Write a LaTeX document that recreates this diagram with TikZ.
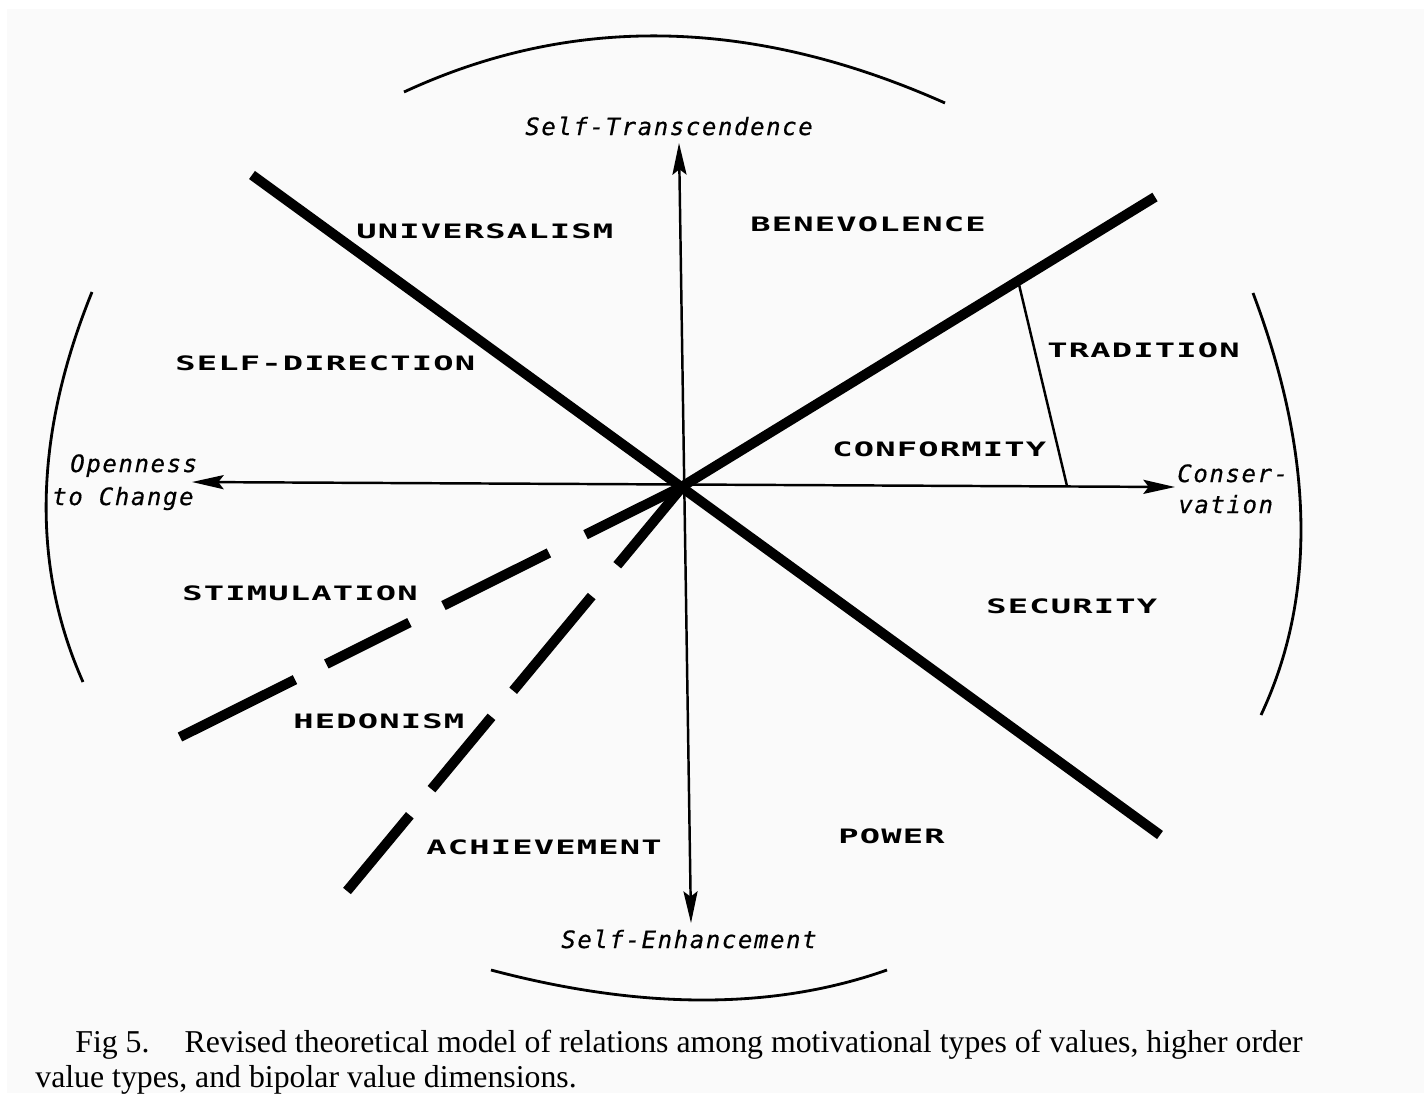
\documentclass[tikz,border=0pt]{standalone}
\usepackage{fontspec}
\setmainfont{Liberation Serif}
\newfontfamily\typefont[FakeStretch=1.7,LetterSpace=6,UprightFont=*-Bold]{DejaVu Sans Mono}
\newfontfamily\dimfont[LetterSpace=7,FakeBold=0.6]{DejaVu Sans Mono}
\usetikzlibrary{arrows.meta,calc}
\definecolor{paper}{RGB}{250,250,250}
\begin{document}
\begin{tikzpicture}[x=0.02cm,y=-0.02cm,
  axis/.style={line width=1.4pt,{Stealth[length=18pt,width=8pt,inset=3pt]}-{Stealth[length=18pt,width=8pt,inset=3pt]}},
  rim/.style={line width=1.6pt},
  bar/.style={line width=5.7pt},
  typelbl/.style={anchor=base west,inner sep=0pt,font=\typefont\fontsize{11.3}{13}\selectfont},
  dimlbl/.style={anchor=base west,inner sep=0pt,font=\dimfont\itshape\fontsize{13.6}{16}\selectfont}]
\useasboundingbox (0,0) rectangle (1424,1093);
\fill[white] (0,0) rectangle (1424,1093);
\fill[paper] (7,9) rectangle (1424,1093);
% axes
\coordinate (O) at (683,486);
\coordinate (N) at (679,143);
\coordinate (S) at (691,923);
\coordinate (W) at (192,482);
\coordinate (E) at (1175,487);
\draw[axis] (W) -- (E);
\draw[axis] (N) -- (S);
% dividing lines
\coordinate (NW) at (252,175);
\coordinate (SE) at (1160,835);
\coordinate (NE) at (1155,197);
\coordinate (SWa) at (180,737);
\coordinate (SWb) at (347,891);
\draw[bar] (NW) -- (SE);
\draw[bar] (O) -- (NE);
\draw[bar,dash pattern=on 62pt off 23.3pt on 67.1pt off 21.6pt on 52.9pt off 19.9pt on 80pt] (O) -- (SWa);
\draw[bar,dash pattern=on 58.6pt off 22.8pt on 70pt off 19.3pt on 53.5pt off 19.3pt on 65pt] (O) -- (SWb);
\coordinate (trd) at ($(O)!0.71!(NE)$);
\coordinate (cnf) at (1067,486);
\draw[line width=1.4pt] (trd) -- (cnf);
% outer arcs
\draw[rim] (404,92) .. controls (572,14) and (752,17) .. (945,103);
\draw[rim] (92,292) .. controls (34,435) and (31,565) .. (83,682);
\draw[rim] (1253,293) .. controls (1314,455) and (1317,596) .. (1261,715);
\draw[rim] (491,970) .. controls (642,1010) and (774,1010) .. (887,970);
% value types
\node[typelbl] (univ) at (356,238) {UNIVERSALISM};
\node[typelbl] (bene) at (750,231) {BENEVOLENCE};
\node[typelbl] (sdir) at (175,370) {SELF-DIRECTION};
\node[typelbl] (trad) at (1047,357) {TRADITION};
\node[typelbl] (conf) at (832,456) {CONFORMITY};
\node[typelbl] (stim) at (182,600) {STIMULATION};
\node[typelbl] (secu) at (986,613) {SECURITY};
\node[typelbl] (hedo) at (293,728) {HEDONISM};
\node[typelbl] (achi) at (426,854) {ACHIEVEMENT};
\node[typelbl] (powr) at (838,843) {POWER};
% higher order types
\node[dimlbl] (stra) at (525,135) {Self-Transcendence};
\node[dimlbl] (senh) at (561,948) {Self-Enhancement};
\node[dimlbl] (open) at (70,472) {Openness};
\node[dimlbl] (chng) at (52,505) {to Change};
\node[dimlbl] (cons) at (1177,482) {Conser-};
\node[dimlbl] (vatn) at (1178,513) {vation};
% caption
\node[anchor=base west,inner sep=0pt,font=\fontsize{18.1}{21}\selectfont] (cap1) at (75,1052)
  {Fig 5.\hspace{1.1em}Revised theoretical model of relations among motivational types of values, higher order};
\node[anchor=base west,inner sep=0pt,font=\fontsize{18.1}{21}\selectfont] (cap2) at (35,1087)
  {value types, and bipolar value dimensions.};
\end{tikzpicture}
\end{document}
